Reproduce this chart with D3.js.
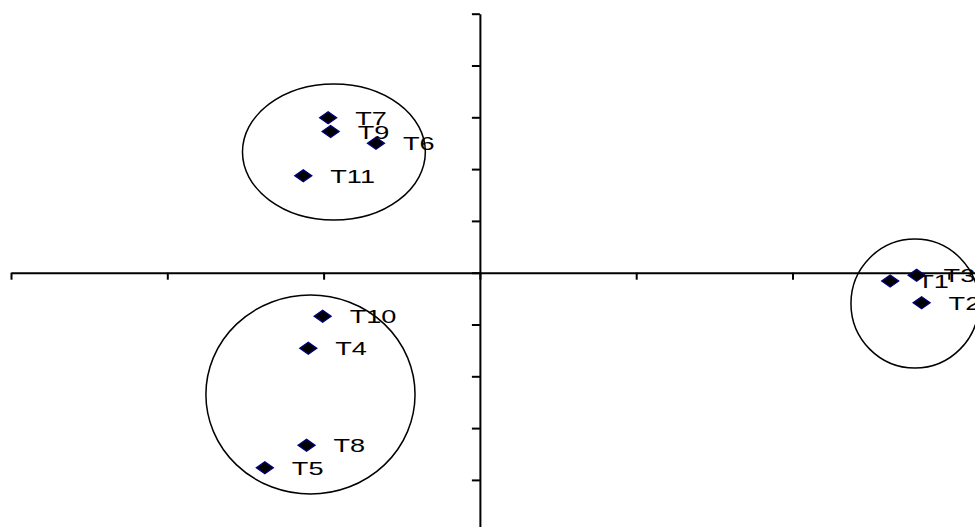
<!DOCTYPE html>
<html>
<head>
<meta charset="utf-8">
<script src="https://cdn.jsdelivr.net/npm/d3@7"></script>
<style>
  html, body { margin: 0; padding: 0; background: #fff; }
  svg { display: block; }
</style>
</head>
<body>
<svg id="chart" width="975" height="527"></svg>
<script>
// ---- data ----
const labels = ["T1","T2","T3","T4","T5","T6","T7","T8","T9","T10","T11"];
const xValues = [2.625, 2.826, 2.794, -1.098, -1.376, -0.665, -0.971, -1.109, -0.955, -1.006, -1.130];
const yValues = [-0.160, -0.579, -0.050, -1.459, -3.764, 2.498, 2.990, -3.332, 2.726, -0.842, 1.873];
const xTicks = [-3, -2, -1, 0, 1, 2, 3];
const yTicks = [-5, -4, -3, -2, -1, 0, 1, 2, 3, 4, 5];
// group ellipses (centre and radii in data units)
const groupCx = [-0.934, -1.084, 2.783];
const groupCy = [2.33, -2.351, -0.595];
const groupRx = [0.585, 0.669, 0.409];
const groupRy = [1.313, 1.921, 1.245];

const svg = d3.select("#chart");
const x = d3.scaleLinear().domain([-3, 4]).range([11, 1105.1]);
const y = d3.scaleLinear().domain([-5, 5]).range([531.7, 13.7]);

// axes through origin
const xAxis = d3.axisBottom(x).tickValues(xTicks).tickSizeInner(7).tickSizeOuter(0).tickFormat("");
const yAxis = d3.axisLeft(y).tickValues(yTicks).tickSizeInner(8).tickSizeOuter(0).tickFormat("");

const gx = svg.append("g").attr("transform", `translate(0,${y(0)})`).call(xAxis);
const gy = svg.append("g").attr("transform", `translate(${x(0)},0)`).call(yAxis);
[gx, gy].forEach(g => {
  g.selectAll("path.domain").attr("stroke", "#000").attr("stroke-width", 2);
  g.selectAll(".tick line").attr("stroke", "#000").attr("stroke-width", 2);
});

// group ellipses
const groups = groupCx.map((cx, i) => ({cx, cy: groupCy[i], rx: groupRx[i], ry: groupRy[i]}));
svg.append("g").selectAll("ellipse").data(groups).join("ellipse")
  .attr("cx", d => x(d.cx))
  .attr("cy", d => y(d.cy))
  .attr("rx", d => x(d.cx + d.rx) - x(d.cx))
  .attr("ry", d => y(d.cy) - y(d.cy + d.ry))
  .attr("fill", "none")
  .attr("stroke", "#000")
  .attr("stroke-width", 1.5);

// points
const pts = labels.map((l, i) => ({label: l, x: xValues[i], y: yValues[i]}));
const diamond = "M0,-6L8.5,0L0,6L-8.5,0Z";
svg.append("g").selectAll("path").data(pts).join("path")
  .attr("d", diamond)
  .attr("transform", d => `translate(${x(d.x)},${y(d.y)})`)
  .attr("fill", "#000")
  .attr("stroke", "#000080")
  .attr("stroke-width", 1.3);

// labels (horizontally stretched like the reference)
svg.append("g").selectAll("text").data(pts).join("text")
  .attr("transform", d => `translate(${x(d.x) + 27},${y(d.y) + 1}) scale(1.55,1)`)
  .attr("dy", "0.35em")
  .attr("font-family", "'Liberation Sans', Arial, sans-serif")
  .attr("font-size", 17.5)
  .attr("fill", "#000")
  .text(d => d.label);
</script>
</body>
</html>
